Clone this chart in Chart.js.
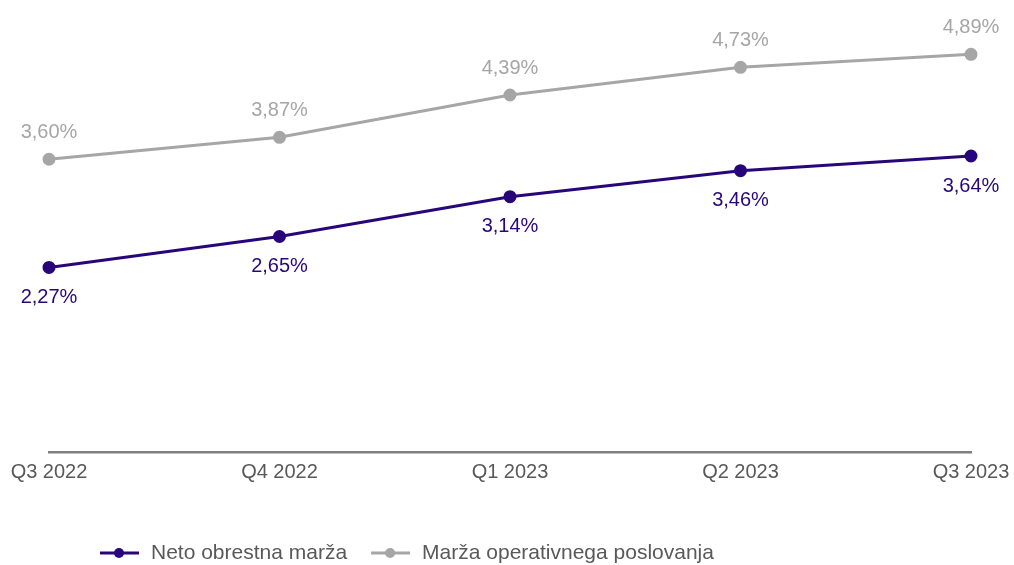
<!DOCTYPE html>
<html>
<head>
<meta charset="utf-8">
<script src="https://cdn.jsdelivr.net/npm/chart.js@4/dist/chart.umd.min.js"></script>
<style>
  html, body { margin: 0; padding: 0; background: #fff; }
  #wrap { width: 1014px; height: 565px; }
</style>
</head>
<body>
<div id="wrap"><canvas id="grafica" width="1014" height="565"></canvas></div>
<script>
const kvartali = ['Q3 2022', 'Q4 2022', 'Q1 2023', 'Q2 2023', 'Q3 2023'];
const netoObrestna = [2.27, 2.65, 3.14, 3.46, 3.64];
const operativna = [3.60, 3.87, 4.39, 4.73, 4.89];
const serije = ['Neto obrestna marža', 'Marža operativnega poslovanja'];

const vijolicna = '#28067a';
const siva = '#a6a6a6';
const pisava = '"Liberation Sans", Arial, sans-serif';

function odstotek(v) {
  return v.toFixed(2).replace('.', ',') + '%';
}

// oznake vrednosti nad / pod tockami
const oznake = {
  id: 'oznake',
  afterDatasetsDraw(chart) {
    const ctx = chart.ctx;
    ctx.save();
    ctx.font = '20px ' + pisava;
    ctx.textAlign = 'center';
    ctx.textBaseline = 'middle';
    chart.data.datasets.forEach((ds, i) => {
      const meta = chart.getDatasetMeta(i);
      meta.data.forEach((pt, j) => {
        ctx.fillStyle = ds.borderColor;
        const dy = i === 0 ? 30 : -27;
        ctx.fillText(odstotek(ds.data[j]), pt.x, pt.y + dy);
      });
    });
    ctx.restore();
  }
};

// legenda spodaj levo
const legenda = {
  id: 'legenda',
  afterDraw(chart) {
    const ctx = chart.ctx;
    ctx.save();
    ctx.font = '21px ' + pisava;
    ctx.textBaseline = 'middle';
    let x = 100;
    const y = 553;
    chart.data.datasets.forEach(ds => {
      ctx.strokeStyle = ds.borderColor;
      ctx.fillStyle = ds.borderColor;
      ctx.lineWidth = 3;
      ctx.beginPath();
      ctx.moveTo(x, y);
      ctx.lineTo(x + 39, y);
      ctx.stroke();
      ctx.beginPath();
      ctx.arc(x + 19, y, 5, 0, Math.PI * 2);
      ctx.fill();
      ctx.fillStyle = '#595959';
      ctx.fillText(ds.label, x + 51, y);
      x += 51 + ctx.measureText(ds.label).width + 24;
    });
    ctx.restore();
  }
};

const ctx = document.getElementById('grafica').getContext('2d');
new Chart(ctx, {
  type: 'line',
  data: {
    labels: kvartali,
    datasets: [{
      label: serije[0],
      data: netoObrestna,
      borderColor: vijolicna,
      backgroundColor: vijolicna,
      borderWidth: 3,
      pointRadius: 5,
      tension: 0
    }, {
      label: serije[1],
      data: operativna,
      borderColor: siva,
      backgroundColor: siva,
      borderWidth: 3,
      pointRadius: 5,
      tension: 0
    }]
  },
  options: {
    responsive: false,
    animation: false,
    layout: {
      padding: { left: 49, right: 43, top: 0, bottom: 73 }
    },
    plugins: {
      legend: { display: false },
      tooltip: { enabled: false }
    },
    scales: {
      x: {
        offset: false,
        grid: { display: false, drawTicks: false },
        border: { display: true, color: '#808080', width: 2.5 },
        ticks: {
          color: '#595959',
          font: { family: pisava, size: 20 },
          padding: 8,
          maxRotation: 0
        },
        afterFit(scale) {
          scale.paddingLeft = 0;
          scale.paddingRight = 0;
        }
      },
      y: {
        display: false,
        min: 0,
        max: 5.46
      }
    }
  },
  plugins: [oznake, legenda]
});
</script>
</body>
</html>
